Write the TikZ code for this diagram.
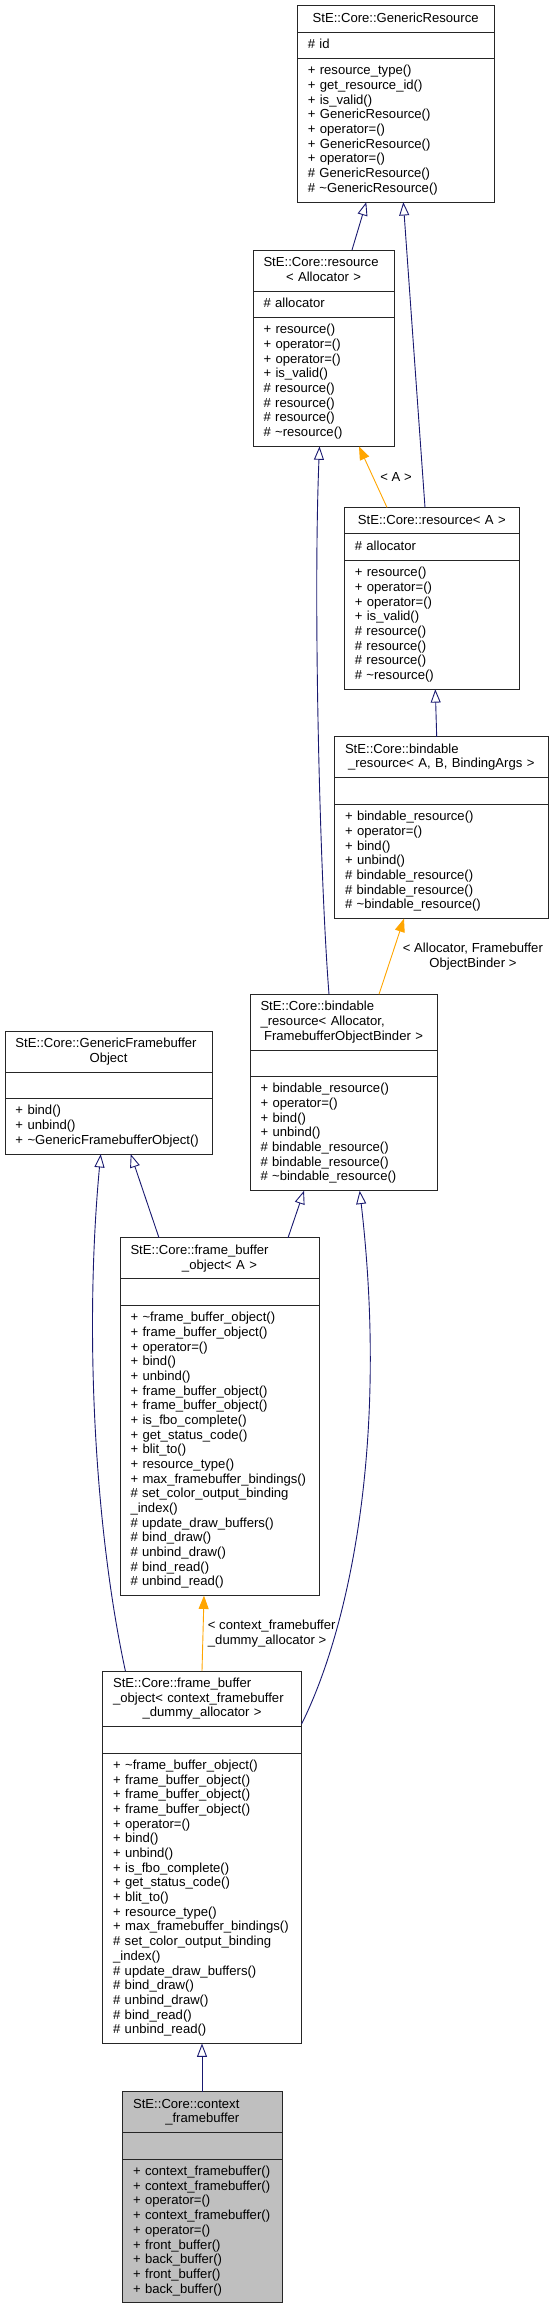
\documentclass[tikz,border=0pt]{standalone}
\usepackage{fontspec}
\setmainfont{Liberation Sans}
\usetikzlibrary{shapes.multipart,arrows.meta}
\definecolor{edgeblue}{HTML}{191970}
\definecolor{edgeorange}{HTML}{FFA500}
\newcommand{\ms}{\rule[-4pt]{0pt}{14.67pt}}
\newcommand{\Ln}[1]{\mbox{\ms#1}}
\newcommand{\Cn}[1]{\makebox[\linewidth]{\ms#1}}
\newcommand{\tl}{\textasciitilde}
\tikzset{
  cls/.style={rectangle split, rectangle split parts=3, draw=black!85, line width=1pt,
    text width=#1, inner xsep=10.5pt, inner ysep=5.35pt, outer sep=0pt,
    anchor=north west, align=left, font=\fontsize{13.1pt}{14.67pt}\selectfont},
  inh/.style={draw=edgeblue, line width=0.9pt, -{Triangle[open, length=13.3pt, width=10pt]}},
  tmpl/.style={draw=edgeorange, line width=0.9pt, -{Triangle[length=13.3pt, width=10pt, fill=edgeorange]}},
  lbl/.style={inner sep=0pt, font=\fontsize{13.1pt}{14.67pt}\selectfont},
}
\begin{document}
\begin{tikzpicture}[x=1pt, y=-1pt]
\useasboundingbox (0,0) rectangle (553,2305);

\node[cls=175.7pt] (GR) at (297.3,5.7) {\Cn{StE::Core::GenericResource}
\nodepart{two}\Ln{\# id}
\nodepart{three}\Ln{+ resource\_type()}\\\Ln{+ get\_resource\_id()}\\\Ln{+ is\_valid()}\\\Ln{+ GenericResource()}\\\Ln{+ operator=()}\\\Ln{+ GenericResource()}\\\Ln{+ operator=()}\\\Ln{\# GenericResource()}\\\Ln{\# \tl GenericResource()}};

\node[cls=120pt] (RAlloc) at (253,250) {\Ln{StE::Core::resource}\\\Cn{< Allocator >}
\nodepart{two}\Ln{\# allocator}
\nodepart{three}\Ln{+ resource()}\\\Ln{+ operator=()}\\\Ln{+ operator=()}\\\Ln{+ is\_valid()}\\\Ln{\# resource()}\\\Ln{\# resource()}\\\Ln{\# resource()}\\\Ln{\# \tl resource()}};

\node[cls=154pt] (RA) at (344.3,507.5) {\Cn{StE::Core::resource< A >}
\nodepart{two}\Ln{\# allocator}
\nodepart{three}\Ln{+ resource()}\\\Ln{+ operator=()}\\\Ln{+ operator=()}\\\Ln{+ is\_valid()}\\\Ln{\# resource()}\\\Ln{\# resource()}\\\Ln{\# resource()}\\\Ln{\# \tl resource()}};

\node[cls=192.5pt] (BRABC) at (334.5,736.8) {\Ln{StE::Core::bindable}\\\Cn{\_resource< A, B, BindingArgs >}
\nodepart{two}\Ln{}
\nodepart{three}\Ln{+ bindable\_resource()}\\\Ln{+ operator=()}\\\Ln{+ bind()}\\\Ln{+ unbind()}\\\Ln{\# bindable\_resource()}\\\Ln{\# bindable\_resource()}\\\Ln{\# \tl bindable\_resource()}};

\node[cls=166pt] (BRAlloc) at (250,994.3) {\Ln{StE::Core::bindable}\\\Ln{\_resource< Allocator,}\\\Cn{FramebufferObjectBinder >}
\nodepart{two}\Ln{}
\nodepart{three}\Ln{+ bindable\_resource()}\\\Ln{+ operator=()}\\\Ln{+ bind()}\\\Ln{+ unbind()}\\\Ln{\# bindable\_resource()}\\\Ln{\# bindable\_resource()}\\\Ln{\# \tl bindable\_resource()}};

\node[cls=186pt] (GFO) at (5,1031) {\Ln{StE::Core::GenericFramebuffer}\\\Cn{Object}
\nodepart{two}\Ln{}
\nodepart{three}\Ln{+ bind()}\\\Ln{+ unbind()}\\\Ln{+ \tl GenericFramebufferObject()}};

\node[cls=178pt] (FBOA) at (120,1237.8) {\Ln{StE::Core::frame\_buffer}\\\Cn{\_object< A >}
\nodepart{two}\Ln{}
\nodepart{three}\Ln{+ \tl frame\_buffer\_object()}\\\Ln{+ frame\_buffer\_object()}\\\Ln{+ operator=()}\\\Ln{+ bind()}\\\Ln{+ unbind()}\\\Ln{+ frame\_buffer\_object()}\\\Ln{+ frame\_buffer\_object()}\\\Ln{+ is\_fbo\_complete()}\\\Ln{+ get\_status\_code()}\\\Ln{+ blit\_to()}\\\Ln{+ resource\_type()}\\\Ln{+ max\_framebuffer\_bindings()}\\\Ln{\# set\_color\_output\_binding}\\\Ln{\_index()}\\\Ln{\# update\_draw\_buffers()}\\\Ln{\# bind\_draw()}\\\Ln{\# unbind\_draw()}\\\Ln{\# bind\_read()}\\\Ln{\# unbind\_read()}};

\node[cls=178pt] (FBOctx) at (102.6,1671) {\Ln{StE::Core::frame\_buffer}\\\Ln{\_object< context\_framebuffer}\\\Cn{\_dummy\_allocator >}
\nodepart{two}\Ln{}
\nodepart{three}\Ln{+ \tl frame\_buffer\_object()}\\\Ln{+ frame\_buffer\_object()}\\\Ln{+ frame\_buffer\_object()}\\\Ln{+ frame\_buffer\_object()}\\\Ln{+ operator=()}\\\Ln{+ bind()}\\\Ln{+ unbind()}\\\Ln{+ is\_fbo\_complete()}\\\Ln{+ get\_status\_code()}\\\Ln{+ blit\_to()}\\\Ln{+ resource\_type()}\\\Ln{+ max\_framebuffer\_bindings()}\\\Ln{\# set\_color\_output\_binding}\\\Ln{\_index()}\\\Ln{\# update\_draw\_buffers()}\\\Ln{\# bind\_draw()}\\\Ln{\# unbind\_draw()}\\\Ln{\# bind\_read()}\\\Ln{\# unbind\_read()}};

\node[cls=138.4pt, fill=black!25] (CTX) at (122.6,2091.7) {\Ln{StE::Core::context}\\\Cn{\_framebuffer}
\nodepart{two}\Ln{}
\nodepart{three}\Ln{+ context\_framebuffer()}\\\Ln{+ context\_framebuffer()}\\\Ln{+ operator=()}\\\Ln{+ context\_framebuffer()}\\\Ln{+ operator=()}\\\Ln{+ front\_buffer()}\\\Ln{+ back\_buffer()}\\\Ln{+ front\_buffer()}\\\Ln{+ back\_buffer()}};

% connectors
\draw[inh] ([xshift=99pt]RAlloc.north west) -- ([xshift=69pt]GR.south west);
\draw[inh] ([xshift=80.7pt]RA.north west) -- ([xshift=106pt]GR.south west);
\draw[tmpl] ([xshift=42.7pt]RA.north west) -- node[lbl, anchor=west, xshift=7pt] (lA) {< A >} ([xshift=106pt]RAlloc.south west);
\draw[inh] ([xshift=102.2pt]BRABC.north west) -- ([xshift=91pt]RA.south west);
\draw[inh] ([xshift=79pt]BRAlloc.north west) .. controls +(-9,-114) and +(-6.5,157) .. ([xshift=66.5pt]RAlloc.south west);
\draw[tmpl] ([xshift=129pt]BRAlloc.north west) -- node[lbl, anchor=west, xshift=11pt, align=center] (lB) {< Allocator, Framebuffer\\ObjectBinder >} ([xshift=69.5pt]BRABC.south west);
\draw[inh] ([xshift=39pt]FBOA.north west) -- ([xshift=125.7pt]GFO.south west);
\draw[inh] ([xshift=168pt]FBOA.north west) -- ([xshift=54pt]BRAlloc.south west);
\draw[inh] ([xshift=22.8pt]FBOctx.north west) .. controls +(-30.4,-141) and +(-16.7,179) .. ([xshift=95.7pt]GFO.south west);
\draw[inh] ([yshift=-53pt]FBOctx.north east) .. controls +(44.5,-89) and +(30,260) .. ([xshift=109.7pt]BRAlloc.south west);
\draw[tmpl] ([xshift=99.4pt]FBOctx.north west) -- node[lbl, anchor=west, xshift=4.5pt, align=left] (lC) {< context\_framebuffer\\\_dummy\_allocator >} ([xshift=84pt]FBOA.south west);
\draw[inh] ([xshift=79.4pt]CTX.north west) -- ([xshift=99.4pt]FBOctx.south west);
\end{tikzpicture}
\end{document}
